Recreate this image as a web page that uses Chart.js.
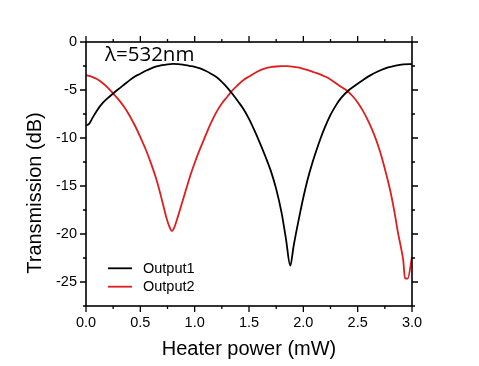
<!DOCTYPE html>
<html>
<head>
<meta charset="utf-8">
<script src="https://cdn.jsdelivr.net/npm/chart.js@4/dist/chart.umd.min.js"></script>
<style>
  html, body { margin:0; padding:0; background:#fff; }
  #wrap { width:479px; height:366px; }
</style>
</head>
<body>
<div id="wrap"><canvas id="chart" width="479" height="366"></canvas></div>
<script>
// values
const out1X = [0.00,0.03,0.06,0.10,0.15,0.20,0.25,0.30,0.35,0.40,0.45,0.50,0.55,0.60,0.65,0.70,0.75,0.80,0.85,0.90,0.95,1.00,1.05,1.10,1.15,1.20,1.25,1.30,1.35,1.40,1.45,1.50,1.55,1.60,1.65,1.70,1.75,1.80,1.84,1.88,1.91,1.94,1.97,2.00,2.04,2.08,2.12,2.16,2.20,2.25,2.30,2.35,2.42,2.48,2.55,2.62,2.70,2.78,2.85,2.92,3.00];
const out1Y = [-8.7,-8.5,-7.9,-7.15,-6.4,-5.85,-5.37,-4.9,-4.45,-4.0,-3.6,-3.3,-3.0,-2.75,-2.55,-2.42,-2.33,-2.28,-2.3,-2.38,-2.48,-2.58,-2.75,-3.0,-3.3,-3.65,-4.15,-4.75,-5.45,-6.2,-7.0,-8.0,-9.2,-10.5,-11.9,-13.4,-15.3,-17.8,-20.5,-23.3,-21.3,-19.5,-17.8,-16.2,-14.3,-12.7,-11.3,-10.0,-8.85,-7.6,-6.6,-5.8,-5.0,-4.5,-3.95,-3.45,-3.0,-2.65,-2.45,-2.33,-2.3];
const out2X = [0.00,0.05,0.10,0.15,0.20,0.25,0.30,0.35,0.40,0.45,0.50,0.55,0.60,0.65,0.70,0.74,0.77,0.79,0.81,0.84,0.88,0.92,0.96,1.00,1.04,1.08,1.12,1.16,1.20,1.25,1.30,1.35,1.40,1.45,1.50,1.55,1.60,1.65,1.70,1.75,1.80,1.85,1.90,1.95,2.00,2.05,2.10,2.15,2.20,2.25,2.30,2.35,2.40,2.45,2.50,2.55,2.60,2.65,2.70,2.75,2.80,2.84,2.87,2.90,2.92,2.935,2.96,3.00];
const out2Y = [-3.45,-3.6,-3.85,-4.25,-4.75,-5.37,-6.0,-6.75,-7.65,-8.7,-9.9,-11.2,-12.7,-14.4,-16.5,-18.3,-19.3,-19.7,-19.4,-18.4,-16.9,-15.4,-13.9,-12.6,-11.4,-10.3,-9.2,-8.2,-7.3,-6.4,-5.7,-5.0,-4.45,-3.95,-3.6,-3.25,-2.95,-2.75,-2.62,-2.55,-2.52,-2.52,-2.56,-2.65,-2.8,-2.95,-3.15,-3.35,-3.6,-3.9,-4.3,-4.7,-5.05,-5.6,-6.3,-7.2,-8.3,-9.6,-11.2,-13.2,-15.5,-17.8,-19.8,-21.5,-22.8,-24.6,-24.65,-22.4];
const xTicks = [0, 0.5, 1.0, 1.5, 2.0, 2.5, 3.0];
const yTicks = [-25, -20, -15, -10, -5, 0];
const seriesNames = ['Output1', 'Output2'];
const seriesColors = ['#000000', '#dd1f1f'];
const note = 'λ=532nm';

const sans = '"Liberation Sans", Arial, sans-serif';

function pts(xs, ys) { return xs.map((x,i)=>({x:x, y:ys[i]})); }

// frame, outward ticks (major + minor) on all four sides, legend, notes
const decor = {
  id:'decor',
  afterDraw(chart) {
    const {ctx, chartArea:a, scales} = chart;
    const sx = scales.x, sy = scales.y;
    ctx.save();
    ctx.strokeStyle = '#000';
    ctx.lineWidth = 1.6;
    ctx.strokeRect(a.left, a.top, a.right-a.left, a.bottom-a.top);
    ctx.lineWidth = 1.3;
    ctx.beginPath();
    for (let i=0; i<=12; i++) {
      const v = i*0.25, px = sx.getPixelForValue(v);
      const len = (i%2===0) ? 6 : 3;
      ctx.moveTo(px, a.bottom); ctx.lineTo(px, a.bottom+len);
      ctx.moveTo(px, a.top); ctx.lineTo(px, a.top-len);
    }
    for (let i=0; i<=11; i++) {
      const v = -i*2.5, py = sy.getPixelForValue(v);
      const len = (i%2===0) ? 6 : 3;
      ctx.moveTo(a.left, py); ctx.lineTo(a.left-len, py);
      ctx.moveTo(a.right, py); ctx.lineTo(a.right+len, py);
    }
    ctx.stroke();

    // legend
    ctx.font = '14.5px ' + sans;
    ctx.textBaseline = 'middle';
    ctx.textAlign = 'left';
    chart.data.datasets.forEach((ds,i)=>{
      const y = 268.3 + i*18.4;
      ctx.strokeStyle = ds.borderColor;
      ctx.lineWidth = 1.8;
      ctx.beginPath(); ctx.moveTo(108, y); ctx.lineTo(132, y); ctx.stroke();
      ctx.fillStyle = '#000';
      ctx.fillText(ds.label, 143, y+0.5);
    });

    // wavelength note
    ctx.font = '20.5px "Open Sans", sans-serif';
    ctx.textBaseline = 'alphabetic';
    ctx.fillText(note, 105, 61);

    // y axis title
    ctx.font = '20px ' + sans;
    ctx.textAlign = 'center';
    ctx.textBaseline = 'middle';
    ctx.translate(35, 193);
    ctx.rotate(-Math.PI/2);
    ctx.fillText('Transmission (dB)', 0, 0);
    ctx.restore();
  }
};

new Chart(document.getElementById('chart'), {
  type:'line',
  data:{
    datasets:[
      { label:seriesNames[0], data:pts(out1X,out1Y), borderColor:seriesColors[0], borderWidth:1.8,
        pointRadius:0, cubicInterpolationMode:'monotone', fill:false },
      { label:seriesNames[1], data:pts(out2X,out2Y), borderColor:seriesColors[1], borderWidth:1.8,
        pointRadius:0, cubicInterpolationMode:'monotone', fill:false }
    ]
  },
  options:{
    responsive:false,
    animation:false,
    layout:{ padding:{ top:42, right:67, left:0, bottom:0 } },
    plugins:{ legend:{display:false}, tooltip:{enabled:false} },
    scales:{
      x:{
        type:'linear', min:0, max:3,
        afterBuildTicks: s => { s.ticks = xTicks.map(v=>({value:v})); },
        afterFit: s => { s.height = 60; },
        grid:{ display:false, drawTicks:true, tickLength:6 },
        border:{ display:false },
        ticks:{ color:'#000', font:{ family:sans, size:14.5 }, padding:2,
                maxRotation:0, callback: v => Number(v).toFixed(1) },
        title:{ display:true, text:'Heater power (mW)', color:'#000',
                font:{ family:sans, size:20 }, padding:{ top:0, bottom:5 } }
      },
      y:{
        type:'linear', min:-27.5, max:0,
        afterBuildTicks: s => { s.ticks = yTicks.map(v=>({value:v})); },
        afterFit: s => { s.width = 86; },
        grid:{ display:false, drawTicks:true, tickLength:6 },
        border:{ display:false },
        ticks:{ color:'#000', font:{ family:sans, size:14.5 }, padding:3 }
      }
    }
  },
  plugins:[decor]
});
</script>
</body>
</html>
